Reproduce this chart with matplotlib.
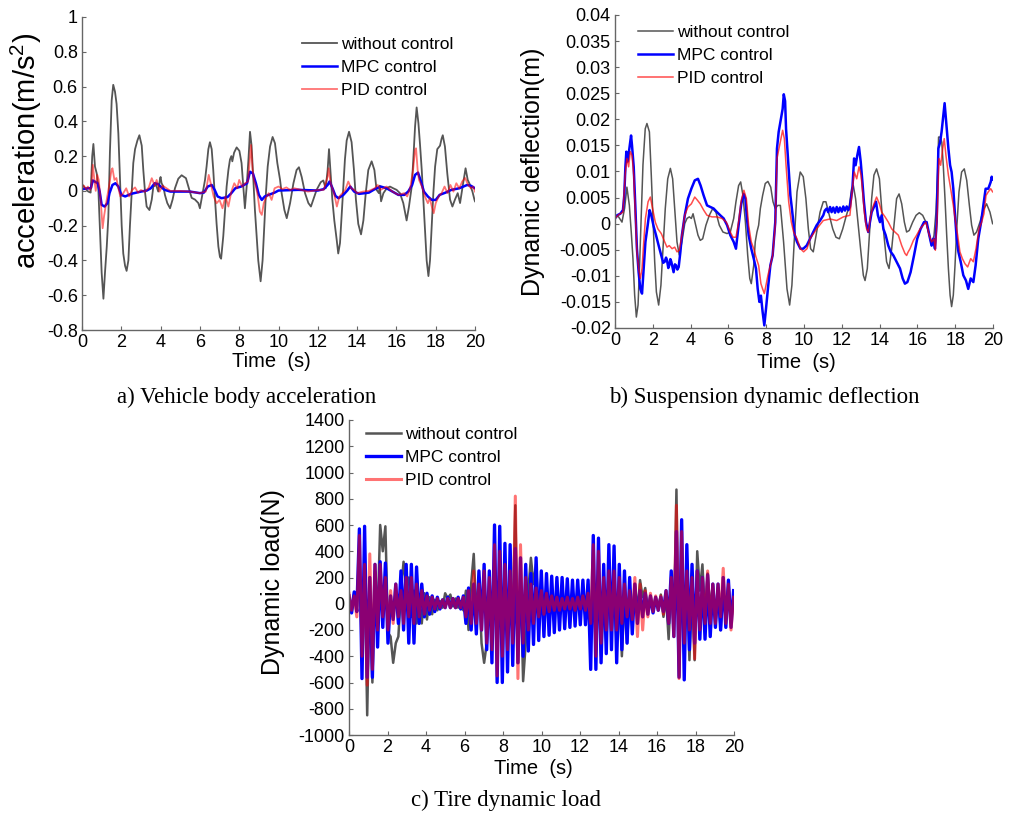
import numpy as np
import matplotlib
matplotlib.use("Agg")
import matplotlib.pyplot as plt

plt.rcParams['font.family'] = ['Liberation Sans', 'DejaVu Sans']
plt.rcParams['axes.unicode_minus'] = False
plt.rcParams['mathtext.fontset'] = 'custom'
plt.rcParams['mathtext.rm'] = 'Liberation Sans'
plt.rcParams['mathtext.it'] = 'Liberation Sans:italic'
plt.rcParams['mathtext.bf'] = 'Liberation Sans:bold'

# ---------------- data ----------------
SERIES = ["without control", "MPC control", "PID control"]
TIME_TICKS = [0, 2, 4, 6, 8, 10, 12, 14, 16, 18, 20]
ACC_TICKS = [-0.8, -0.6, -0.4, -0.2, 0, 0.2, 0.4, 0.6, 0.8, 1]
DEF_TICKS = [-0.02, -0.015, -0.01, -0.005, 0, 0.005, 0.01, 0.015, 0.02, 0.025, 0.03, 0.035, 0.04]
LOAD_TICKS = [-1000, -800, -600, -400, -200, 0, 200, 400, 600, 800, 1000, 1200, 1400]

# a) body acceleration (t [s], a [m/s^2])
ACC_GRAY = [(0.0, 0.04), (0.15, 0.015), (0.32, -0.004), (0.44, -0.01), (0.52, 0.2), (0.58, 0.27), (0.66, 0.14),
            (0.75, 0.1), (0.83, 0.015), (0.92, -0.24), (1.0, -0.47), (1.09, -0.62), (1.17, -0.47), (1.26, -0.32),
            (1.34, -0.15), (1.42, 0.22), (1.51, 0.52), (1.59, 0.61), (1.68, 0.57), (1.76, 0.5), (1.85, 0.33),
            (1.93, 0.08), (2.02, -0.2), (2.1, -0.36), (2.19, -0.43), (2.27, -0.46), (2.36, -0.4), (2.44, -0.2),
            (2.53, -0.01), (2.61, 0.16), (2.7, 0.24), (2.82, 0.29), (2.92, 0.32), (3.04, 0.26), (3.12, 0.12),
            (3.21, -0.01), (3.29, -0.09), (3.43, -0.11), (3.55, -0.05), (3.63, 0.025), (3.77, 0.034), (3.88, -0.004),
            (3.97, 0.07), (4.0, 0.08), (4.05, 0.044), (4.14, 0.025), (4.22, -0.023), (4.34, -0.07), (4.48, -0.1),
            (4.61, -0.05), (4.73, 0.015), (4.9, 0.07), (5.07, 0.09), (5.29, 0.073), (5.46, 0.006), (5.58, -0.04),
            (5.75, -0.05), (5.92, -0.07), (6.0, -0.1), (6.14, -0.013), (6.26, 0.063), (6.34, 0.14), (6.43, 0.24),
            (6.51, 0.28), (6.6, 0.24), (6.68, 0.12), (6.77, -0.05), (6.85, -0.19), (6.94, -0.32), (7.02, -0.38),
            (7.08, -0.39), (7.19, -0.26), (7.28, -0.11), (7.36, 0.025), (7.45, 0.12), (7.53, 0.18), (7.6, 0.2),
            (7.65, 0.17), (7.74, 0.22), (7.87, 0.25), (8.01, 0.23), (8.12, 0.16), (8.21, 0.025), (8.29, -0.1),
            (8.38, 0.025), (8.47, 0.18), (8.55, 0.34), (8.63, 0.26), (8.72, 0.063), (8.8, -0.11), (8.89, -0.26),
            (8.97, -0.4), (9.09, -0.52), (9.19, -0.4), (9.28, -0.2), (9.36, -0.013), (9.45, 0.14), (9.57, 0.255),
            (9.7, 0.31), (9.82, 0.274), (9.94, 0.16), (10.08, 0.063), (10.16, -0.013), (10.3, -0.11), (10.42, -0.157),
            (10.59, -0.07), (10.76, 0.044), (10.92, 0.12), (11.04, 0.136), (11.18, 0.08), (11.35, -0.013),
            (11.52, -0.07), (11.65, -0.09), (11.77, -0.05), (11.94, 0.006), (12.03, 0.025), (12.15, 0.05),
            (12.28, 0.06), (12.4, 0.015), (12.5, 0.12), (12.57, 0.24), (12.65, 0.1), (12.74, -0.05), (12.84, -0.17),
            (12.96, -0.28), (13.04, -0.36), (13.13, -0.3), (13.21, -0.15), (13.3, 0.025), (13.38, 0.18),
            (13.47, 0.29), (13.59, 0.34), (13.72, 0.28), (13.84, 0.12), (13.94, -0.05), (14.06, -0.19),
            (14.2, -0.25), (14.32, -0.17), (14.44, -0.013), (14.57, 0.12), (14.74, 0.17), (14.88, 0.12),
            (14.99, 0.006), (15.11, -0.013), (15.15, 0.03), (15.22, -0.06), (15.34, -0.013), (15.51, 0.015),
            (15.67, 0.025), (15.84, 0.015), (16.01, 0.006), (16.18, -0.013), (16.35, -0.07), (16.52, -0.17),
            (16.64, -0.09), (16.78, 0.025), (16.86, 0.18), (16.95, 0.37), (17.03, 0.48), (17.12, 0.39),
            (17.2, 0.27), (17.29, 0.12), (17.37, -0.05), (17.46, -0.24), (17.54, -0.4), (17.63, -0.49),
            (17.71, -0.4), (17.8, -0.2), (17.88, -0.013), (17.97, 0.14), (18.08, 0.24), (18.22, 0.26),
            (18.3, 0.3), (18.36, 0.32), (18.47, 0.255), (18.59, 0.1), (18.73, -0.05), (18.85, -0.09),
            (18.98, -0.05), (19.12, -0.013), (19.24, -0.07), (19.37, 0.025), (19.52, 0.13), (19.63, 0.063),
            (19.75, 0.034), (19.87, -0.004), (19.97, -0.05), (20.0, -0.06)]

ACC_MPC = [(0, 0.01), (0.3, 0.015), (0.45, 0.015), (0.55, 0.06), (0.8, 0.044), (0.9, -0.004), (1.0, -0.08),
           (1.15, -0.09), (1.3, -0.07), (1.4, -0.013), (1.55, 0.034), (1.7, 0.044), (1.85, 0.025), (2.0, -0.023),
           (2.2, -0.032), (2.5, -0.017), (3.0, -0.004), (3.3, 0.002), (3.5, 0.015), (3.7, 0.044), (3.85, 0.04),
           (4.0, 0.025), (4.2, 0.006), (4.5, -0.004), (5.0, -0.004), (5.5, -0.004), (6.0, -0.013), (6.2, -0.01),
           (6.4, 0.025), (6.6, 0.034), (6.75, 0.006), (6.9, -0.032), (7.1, -0.042), (7.4, -0.036), (7.6, -0.013),
           (7.8, 0.015), (8.1, 0.025), (8.4, 0.044), (8.55, 0.11), (8.7, 0.1), (8.85, 0.044), (9.0, -0.023),
           (9.15, -0.052), (9.3, -0.032), (9.5, -0.023), (9.8, -0.01), (10.0, 0.002), (10.5, 0.004), (11.0, 0.006),
           (11.5, 0.004), (12.0, 0.002), (12.3, 0.01), (12.5, 0.034), (12.6, 0.054), (12.75, 0.015), (12.9, -0.029),
           (13.05, -0.042), (13.3, -0.023), (13.5, 0.002), (13.65, 0.025), (13.85, -0.004), (14.1, -0.017),
           (14.4, -0.013), (14.6, -0.01), (14.9, 0.01), (15.2, 0.025), (15.5, 0.015), (15.8, -0.004),
           (16.1, -0.023), (16.4, -0.023), (16.6, -0.004), (16.8, 0.034), (16.95, 0.092), (17.1, 0.105),
           (17.25, 0.054), (17.4, -0.004), (17.6, -0.032), (17.8, -0.052), (18.0, -0.052), (18.2, -0.023),
           (18.5, -0.01), (18.8, 0.006), (19.2, 0.015), (19.6, 0.034), (19.8, 0.029), (20.0, 0.015)]

ACC_PID = [(0, 0.02), (0.1, 0.03), (0.2, 0.01), (0.3, 0.025), (0.4, 0.005), (0.48, 0.02), (0.55, 0.15),
           (0.62, 0.074), (0.7, 0.0), (0.78, 0.092), (0.85, 0.063), (0.95, -0.052), (1.05, -0.215), (1.12, -0.148),
           (1.2, -0.09), (1.3, -0.023), (1.4, 0.044), (1.5, 0.121), (1.55, 0.13), (1.65, 0.063), (1.75, 0.074),
           (1.85, 0.015), (1.95, -0.032), (2.1, -0.013), (2.25, 0.015), (2.4, -0.032), (2.55, 0.005), (2.7, 0.02),
           (2.85, -0.01), (3.0, 0.005), (3.2, -0.005), (3.4, 0.02), (3.55, 0.073), (3.7, 0.03), (3.8, 0.063),
           (3.95, -0.004), (4.1, 0.03), (4.3, 0.015), (4.5, 0.0), (5.0, 0.0), (5.5, -0.004), (6.0, -0.013),
           (6.3, -0.004), (6.45, 0.092), (6.55, 0.044), (6.7, -0.032), (6.85, -0.071), (7.0, -0.052), (7.15, -0.1),
           (7.3, -0.032), (7.45, -0.09), (7.6, -0.004), (7.75, 0.044), (7.9, 0.015), (8.0, 0.063), (8.15, 0.025),
           (8.3, 0.044), (8.45, 0.054), (8.6, 0.264), (8.68, 0.121), (8.75, 0.063), (8.85, 0.025), (8.95, -0.032),
           (9.05, -0.119), (9.15, -0.138), (9.25, -0.071), (9.35, -0.042), (9.5, -0.013), (9.65, -0.052),
           (9.8, 0.015), (10.0, 0.025), (10.2, 0.01), (10.4, 0.02), (10.6, 0.005), (10.8, 0.015), (11.0, 0.01),
           (11.5, -0.004), (12.0, 0.005), (12.3, 0.006), (12.5, 0.082), (12.55, 0.13), (12.65, 0.044),
           (12.8, -0.004), (12.9, -0.052), (12.97, -0.09), (13.1, -0.032), (13.25, -0.013), (13.4, 0.006),
           (13.55, 0.054), (13.7, 0.015), (13.85, 0.006), (14.0, -0.013), (14.3, -0.004), (14.6, 0.0),
           (14.9, 0.015), (15.05, 0.034), (15.2, 0.006), (15.5, 0.025), (15.8, -0.004), (16.1, -0.023),
           (16.4, -0.013), (16.55, -0.032), (16.7, 0.015), (16.85, 0.121), (16.95, 0.236), (17.0, 0.245),
           (17.08, 0.121), (17.15, 0.063), (17.3, 0.025), (17.45, -0.032), (17.6, -0.071), (17.7, -0.042),
           (17.8, -0.09), (17.9, -0.128), (18.0, -0.071), (18.15, -0.032), (18.3, -0.013), (18.45, 0.025),
           (18.6, -0.013), (18.75, 0.034), (18.9, -0.004), (19.05, 0.044), (19.2, 0.015), (19.35, 0.054),
           (19.5, 0.074), (19.65, 0.034), (19.8, 0.015), (19.9, 0.025), (20.0, -0.004)]

# b) suspension dynamic deflection (t [s], d [m])
DEF_GRAY = [(0, 0.0016), (0.19, 0.0013), (0.37, 0.0003), (0.51, 0.003), (0.63, 0.007), (0.76, 0.0035),
            (0.86, -0.0016), (0.95, -0.0067), (1.04, -0.0137), (1.13, -0.0179), (1.22, -0.0156), (1.3, -0.008),
            (1.39, 0.0016), (1.48, 0.0113), (1.6, 0.0182), (1.69, 0.0192), (1.82, 0.0176), (1.92, 0.0093),
            (2.01, 0.001), (2.1, -0.0073), (2.19, -0.0131), (2.31, -0.0156), (2.43, -0.0118), (2.54, -0.0048),
            (2.66, 0.0029), (2.79, 0.0086), (2.93, 0.0106), (3.05, 0.0086), (3.16, 0.0029), (3.28, -0.0035),
            (3.4, -0.006), (3.54, -0.0035), (3.69, 0.0), (3.81, 0.001), (3.93, 0.0013), (4.04, 0.001),
            (4.13, 0.0019), (4.25, 0.0), (4.39, -0.0022), (4.51, -0.0032), (4.64, -0.0029), (4.81, -0.0003),
            (4.99, 0.0016), (5.17, 0.0029), (5.34, 0.0022), (5.52, -0.0003), (5.71, -0.0016), (5.93, -0.0019),
            (6.1, -0.0016), (6.28, 0.001), (6.4, 0.0042), (6.54, 0.0073), (6.65, 0.008), (6.77, 0.0054),
            (6.9, 0.0003), (7.02, -0.006), (7.13, -0.0105), (7.21, -0.0115), (7.34, -0.008), (7.42, -0.0035),
            (7.51, -0.0016), (7.6, -0.0003), (7.69, 0.0029), (7.81, 0.0054), (7.95, 0.0077), (8.09, 0.0081),
            (8.24, 0.007), (8.36, 0.0042), (8.48, 0.0029), (8.61, 0.0035), (8.75, 0.0035), (8.92, -0.0035),
            (9.1, -0.0125), (9.24, -0.0156), (9.36, -0.0118), (9.5, -0.0022), (9.63, 0.0061), (9.8, 0.0099),
            (9.96, 0.009), (10.1, 0.0048), (10.23, -0.001), (10.35, -0.0048), (10.49, -0.0054), (10.67, -0.0016),
            (10.85, 0.0022), (11.02, 0.0042), (11.16, 0.0042), (11.34, 0.0016), (11.52, -0.001), (11.69, -0.0026),
            (11.87, -0.0029), (12.05, -0.001), (12.22, 0.0013), (12.4, 0.0035), (12.52, 0.0067), (12.61, 0.0073),
            (12.73, 0.0048), (12.87, -0.0003), (13.01, -0.0054), (13.14, -0.0099), (13.23, -0.0109),
            (13.35, -0.0086), (13.46, -0.0022), (13.58, 0.0048), (13.7, 0.0093), (13.84, 0.0105), (13.99, 0.0086),
            (14.11, 0.0029), (14.23, -0.0022), (14.37, -0.0073), (14.5, -0.0086), (14.64, -0.0048),
            (14.76, -0.0003), (14.9, 0.0048), (15.03, 0.0057), (15.17, 0.0038), (15.31, 0.0003), (15.43, -0.0016),
            (15.57, -0.0013), (15.75, 0.0003), (15.93, 0.0016), (16.1, 0.0021), (16.28, 0.0016), (16.45, 0.0003),
            (16.63, -0.0022), (16.75, -0.0042), (16.88, -0.0022), (16.98, 0.0022), (17.07, 0.0099),
            (17.12, 0.0166), (17.22, 0.0166), (17.29, 0.0156), (17.37, 0.0111), (17.46, 0.0048), (17.55, -0.0022),
            (17.64, -0.0086), (17.73, -0.0137), (17.81, -0.0159), (17.9, -0.0137), (17.99, -0.008),
            (18.08, -0.001), (18.2, 0.0061), (18.34, 0.0099), (18.48, 0.0105), (18.61, 0.0083), (18.75, 0.0035),
            (18.87, -0.0003), (18.99, -0.0022), (19.13, -0.0016), (19.31, 0.0003), (19.49, 0.0026),
            (19.66, 0.0038), (19.84, 0.0022), (19.98, 0.0)]

DEF_MPC = [(0, 0.001), (0.11, 0.0016), (0.28, 0.0019), (0.42, 0.0026), (0.49, 0.0054), (0.55, 0.0109),
           (0.6, 0.0138), (0.67, 0.0119), (0.76, 0.0144), (0.85, 0.0169), (0.9, 0.015), (0.99, 0.0109),
           (1.08, 0.0029), (1.16, -0.0048), (1.25, -0.0093), (1.34, -0.0125), (1.43, -0.0134), (1.52, -0.0086),
           (1.61, -0.0035), (1.73, -0.0003), (1.83, 0.0026), (1.92, 0.0016), (2.05, -0.0006), (2.17, -0.0022),
           (2.31, -0.0042), (2.45, -0.0061), (2.55, -0.0075), (2.63, -0.0073), (2.7, -0.0065), (2.75, -0.007),
           (2.82, -0.0085), (2.87, -0.008), (2.93, -0.0068), (2.98, -0.0073), (3.05, -0.0085), (3.1, -0.0093),
           (3.17, -0.0078), (3.23, -0.008), (3.3, -0.0088), (3.37, -0.0083), (3.46, -0.0054), (3.54, -0.0022),
           (3.69, 0.0016), (3.86, 0.0048), (4.04, 0.0067), (4.22, 0.0083), (4.39, 0.0086), (4.53, 0.0073),
           (4.69, 0.0054), (4.87, 0.0035), (5.04, 0.0032), (5.22, 0.0029), (5.4, 0.0022), (5.57, 0.0016),
           (5.75, 0.001), (5.93, -0.0003), (6.1, -0.0022), (6.28, -0.0035), (6.4, -0.0048), (6.54, -0.0003),
           (6.68, 0.0038), (6.81, 0.0057), (6.9, 0.0048), (6.98, 0.001), (7.07, -0.0022), (7.21, -0.0048),
           (7.34, -0.0067), (7.46, -0.0086), (7.55, -0.0125), (7.64, -0.015), (7.72, -0.0138), (7.81, -0.0169),
           (7.9, -0.0195), (7.99, -0.0163), (8.09, -0.0125), (8.22, -0.008), (8.34, -0.0061), (8.48, 0.0003),
           (8.57, 0.0144), (8.66, 0.0176), (8.75, 0.0195), (8.87, 0.022), (8.93, 0.0248), (9.0, 0.0235),
           (9.05, 0.0182), (9.15, 0.0125), (9.28, 0.0054), (9.36, 0.0029), (9.51, -0.0022), (9.63, -0.0035),
           (9.81, -0.0048), (9.96, -0.0048), (10.14, -0.0042), (10.32, -0.0029), (10.49, -0.0016),
           (10.67, -0.0003), (10.85, 0.0006), (11.02, 0.0016), (11.1, 0.0025), (11.2, 0.0029), (11.28, 0.0022),
           (11.38, 0.0032), (11.46, 0.0022), (11.55, 0.0031), (11.64, 0.0021), (11.73, 0.0032), (11.82, 0.0022),
           (11.9, 0.0031), (12.0, 0.0023), (12.08, 0.0033), (12.17, 0.0025), (12.26, 0.0033), (12.35, 0.0026),
           (12.43, 0.0032), (12.56, 0.0067), (12.65, 0.0125), (12.73, 0.0112), (12.82, 0.0131), (12.91, 0.0147),
           (13.0, 0.0119), (13.09, 0.008), (13.17, 0.0042), (13.28, 0.0003), (13.4, -0.0016), (13.49, 0.0003),
           (13.58, 0.0022), (13.7, 0.0032), (13.81, 0.0042), (13.91, 0.0016), (14.02, 0.0003), (14.11, 0.0016),
           (14.2, -0.001), (14.32, -0.0022), (14.46, -0.0042), (14.59, -0.0054), (14.73, -0.0061),
           (14.9, -0.0073), (15.08, -0.0086), (15.22, -0.0105), (15.34, -0.0115), (15.47, -0.0112),
           (15.64, -0.0093), (15.82, -0.0061), (15.99, -0.0029), (16.17, -0.001), (16.35, 0.0003),
           (16.49, 0.0003), (16.63, -0.0022), (16.75, -0.0042), (16.84, -0.0029), (16.93, -0.0048),
           (17.02, 0.0003), (17.11, 0.0144), (17.2, 0.0156), (17.28, 0.0176), (17.37, 0.0207), (17.44, 0.0231),
           (17.55, 0.0182), (17.64, 0.0144), (17.73, 0.0112), (17.81, 0.0099), (17.9, 0.0067), (17.99, 0.0016),
           (18.08, -0.0029), (18.17, -0.0054), (18.29, -0.0073), (18.43, -0.0099), (18.57, -0.0109),
           (18.69, -0.0125), (18.82, -0.0105), (18.96, -0.0112), (19.08, -0.008), (19.22, -0.0029),
           (19.37, 0.0003), (19.49, 0.0035), (19.61, 0.0067), (19.75, 0.0067), (19.88, 0.008), (19.93, 0.009),
           (19.98, 0.0085)]

DEF_PID = [(0, 0.001), (0.19, 0.0017), (0.42, 0.0022), (0.55, 0.0099), (0.63, 0.0125), (0.72, 0.0109),
           (0.81, 0.0138), (0.9, 0.0131), (0.99, 0.0093), (1.08, 0.0016), (1.16, -0.0054), (1.25, -0.0086),
           (1.34, -0.0105), (1.43, -0.0086), (1.52, -0.0035), (1.61, 0.001), (1.75, 0.0042), (1.87, 0.0051),
           (1.99, 0.0029), (2.13, 0.0003), (2.27, -0.001), (2.45, -0.0019), (2.63, -0.0035), (2.75, -0.0045),
           (2.87, -0.0042), (3.02, -0.0048), (3.16, -0.0045), (3.28, -0.0054), (3.4, -0.0051), (3.54, -0.0022),
           (3.69, 0.0016), (3.86, 0.0032), (4.04, 0.0038), (4.22, 0.0051), (4.36, 0.0045), (4.51, 0.0038),
           (4.69, 0.0026), (4.87, 0.0016), (5.13, 0.0013), (5.4, 0.0013), (5.66, 0.001), (5.89, 0.0003),
           (6.1, -0.0016), (6.24, -0.0026), (6.4, -0.0026), (6.54, 0.0003), (6.68, 0.0045), (6.82, 0.0064),
           (6.95, 0.0048), (7.07, -0.0003), (7.21, -0.0035), (7.34, -0.0048), (7.46, -0.0064), (7.6, -0.008),
           (7.72, -0.0115), (7.81, -0.0125), (7.9, -0.0134), (7.99, -0.0118), (8.09, -0.0099), (8.22, -0.008),
           (8.34, -0.0061), (8.48, -0.0003), (8.57, 0.0125), (8.66, 0.0141), (8.75, 0.0156), (8.87, 0.0179),
           (8.96, 0.0163), (9.05, 0.0112), (9.19, 0.0042), (9.33, 0.0003), (9.45, -0.0016), (9.63, -0.0029),
           (9.81, -0.0048), (9.98, -0.0054), (10.16, -0.0048), (10.32, -0.0029), (10.67, -0.001), (11.02, 0.0006),
           (11.38, 0.0009), (11.73, 0.0006), (12.08, 0.0013), (12.43, 0.0016), (12.56, 0.0067), (12.66, 0.0099),
           (12.79, 0.0086), (12.91, 0.0109), (13.02, 0.0093), (13.1, 0.0061), (13.19, 0.0022), (13.31, -0.001),
           (13.4, -0.0016), (13.53, 0.0016), (13.67, 0.0035), (13.84, 0.0051), (13.99, 0.0038), (14.11, 0.0022),
           (14.29, 0.0013), (14.46, 0.0003), (14.64, -0.001), (14.81, -0.0016), (14.99, -0.0022),
           (15.17, -0.0042), (15.34, -0.0057), (15.43, -0.0061), (15.5, -0.0055), (15.61, -0.0048),
           (15.79, -0.0032), (15.96, -0.0022), (16.14, -0.001), (16.31, -0.0003), (16.45, 0.0003),
           (16.63, -0.0022), (16.75, -0.0035), (16.88, -0.0029), (16.95, -0.0051), (17.05, 0.0016),
           (17.14, 0.0125), (17.23, 0.0112), (17.34, 0.0144), (17.42, 0.0163), (17.51, 0.0131), (17.64, 0.0093),
           (17.76, 0.0067), (17.9, 0.0035), (18.02, 0.0003), (18.13, -0.0022), (18.25, -0.0054),
           (18.38, -0.0067), (18.52, -0.0077), (18.66, -0.0083), (18.82, -0.0067), (18.96, -0.0073),
           (19.1, -0.0048), (19.26, -0.001), (19.4, 0.0003), (19.52, 0.0019), (19.63, 0.0054), (19.75, 0.0061),
           (19.88, 0.0067), (19.98, 0.0061)]

# c) tire dynamic load: successive half-cycle extremes [N], sampled every LOAD_DT seconds
LOAD_DT = 0.135
LOAD_GRAY = [50, -60, 80, -50, 450, -400, 300, -850, 200, -600,
             250, -100, 600, 400, 590, -220, -250, -450, -300, -250,
             100, 320, 150, 200, -100, 100, -150, 50, -150, 80,
             -120, 50, -80, 30, -50, 20, -30, 80, 40, 70,
             -20, 40, -30, 20, -50, 100, -200, 150, 380, -100,
             200, -300, -450, -300, 100, -200, 300, -300, 250, -350,
             270, -250, 100, -150, 750, -450, 200, -590, -300, 100,
             350, 150, 300, -100, 200, -150, 150, -120, 100, -100,
             80, -100, 60, -80, 100, -80, 80, -100, 120, -80,
             80, -100, 150, -200, 350, -350, 200, -400, 100, -300,
             150, -250, 200, -350, 100, -400, 50, -300, 100, -150,
             150, -50, 180, 50, 120, -50, 60, -40, 50, -30,
             70, -100, 50, -270, 150, -200, 870, -550, 500, -300,
             200, -430, 100, -430, 400, 100, 300, -100, 230, -50,
             150, -150, 120, -200, 100, -100, 150, -150, 50]
LOAD_MPC = [60, -70, 90, -60, 570, -570, 590, -560, 200, -560,
            300, -330, 320, -180, 310, -300, 60, -120, 150, -150,
            250, -200, 300, -300, 300, -300, 280, -150, 150, -100,
            80, -80, 60, -60, 50, -40, 30, -30, 50, -30,
            40, -30, 50, -40, 60, -150, 120, -200, 150, -230,
            250, -200, 300, -350, 250, -450, 600, -600, 590, -600,
            460, -520, 450, -470, 420, -450, 350, -400, 300, -360,
            230, -310, 350, -280, 250, -250, 230, -240, 210, -220,
            200, -200, 200, -190, 190, -180, 180, -170, 180, -160,
            180, -160, 180, -500, 520, -500, 500, -450, 300, -380,
            450, -350, 440, -450, 300, -350, 250, -300, 200, -230,
            150, -150, 100, -100, 80, -80, 60, -70, 50, -50,
            50, -60, 100, -150, 250, -250, 550, -560, 640, -580,
            450, -350, 300, -300, 250, -270, 200, -270, 220, -250,
            150, -180, 150, -200, 200, -180, 180, -180, 100]
LOAD_PID = [80, -50, 60, -100, 520, -400, 300, -620, 380, -500,
            300, -200, 300, -100, 200, -200, 100, -150, 150, -100,
            100, -150, 200, -100, 200, -150, 150, -100, 100, -80,
            60, -50, 50, -40, 40, -30, 30, -30, 40, -30,
            40, -30, 40, -30, 50, -100, 100, -150, 250, -150,
            150, -200, 250, -300, 200, -350, 450, -550, 400, -400,
            300, -350, 250, -300, 820, -570, 450, -300, 200, -200,
            150, -150, 120, -100, 100, -80, 80, -60, 60, -50,
            50, -50, 40, -40, 50, -40, 40, -50, 50, -40,
            60, -50, 80, -150, 450, -400, 400, -300, 200, -200,
            250, -200, 250, -200, 200, -150, 150, -100, 100, -120,
            200, -250, 150, -200, 100, -100, 80, -60, 60, -50,
            60, -80, 100, -150, 200, -250, 750, -570, 550, -300,
            250, -200, 200, -420, 250, -200, 200, -150, 250, -150,
            150, -150, 150, -100, 270, -150, 150, -200, 50]

# ---------------- figure ----------------
W, H = 1011, 813
fig = plt.figure(figsize=(W / 100, H / 100), dpi=100)


def px_axes(x0, y0, x1, y1):
    return fig.add_axes([x0 / W, 1 - y1 / H, (x1 - x0) / W, (y1 - y0) / H])


ax_a = px_axes(82, 17, 475, 330)
ax_b = px_axes(615, 15, 993, 328)
ax_c = px_axes(349, 420, 734, 735)

GRAY = '#555555'
BLUE = '#0000FF'
RED = '#FF0000'


def style(ax, yticks):
    for s in ['top', 'right']:
        ax.spines[s].set_visible(False)
    for s in ['left', 'bottom']:
        ax.spines[s].set_color('0.4')
        ax.spines[s].set_linewidth(1.0)
    ax.set_xlim(0, 20)
    ax.set_ylim(yticks[0], yticks[-1])
    ax.set_xticks(TIME_TICKS)
    ax.set_xticklabels([f"{v:g}" for v in TIME_TICKS])
    ax.set_yticks(yticks)
    ax.set_yticklabels([f"{v:g}" for v in yticks])
    ax.tick_params(direction='in', length=3, width=0.8, color='0.4', labelsize=13, pad=3)
    ax.patch.set_alpha(0)


def legend(ax, x_px, y_px):
    ax.legend(loc='upper left', bbox_to_anchor=(x_px / W, 1 - y_px / H), bbox_transform=fig.transFigure,
              frameon=False, fontsize=12.5, handlelength=2.0, handletextpad=0.25, labelspacing=0.45,
              borderpad=0, borderaxespad=0)


def xy(pts):
    arr = np.array(pts, dtype=float)
    return arr[:, 0], arr[:, 1]


# a) acceleration
t, v = xy(ACC_GRAY)
ax_a.plot(t, v, color=GRAY, lw=1.3, label=SERIES[0])
t, v = xy(ACC_MPC)
ax_a.plot(t, v, color=BLUE, lw=1.8, label=SERIES[1])
t, v = xy(ACC_PID)
ax_a.plot(t, v, color=RED, lw=1.3, alpha=0.55, label=SERIES[2])
style(ax_a, ACC_TICKS)
ax_a.set_ylabel('acceleration(m/s$^2$)', fontsize=21, va='center')
ax_a.yaxis.set_label_coords(-0.1425, 0.572)
ax_a.set_xlabel('Time  (s)', fontsize=14.5, va='center')
ax_a.xaxis.set_label_coords(0.481, -0.102)
legend(ax_a, 302, 37)

# b) deflection
t, v = xy(DEF_GRAY)
ax_b.plot(t, v, color=GRAY, lw=1.1, label=SERIES[0])
t, v = xy(DEF_MPC)
ax_b.plot(t, v, color=BLUE, lw=1.8, label=SERIES[1])
t, v = xy(DEF_PID)
ax_b.plot(t, v, color=RED, lw=1.1, alpha=0.7, label=SERIES[2])
style(ax_b, DEF_TICKS)
ax_b.set_ylabel('Dynamic deflection(m)', fontsize=18, va='center')
ax_b.yaxis.set_label_coords(-0.217, 0.498)
ax_b.set_xlabel('Time  (s)', fontsize=14.5, va='center')
ax_b.xaxis.set_label_coords(0.479, -0.109)
legend(ax_b, 638, 25)

# c) tire load
t_load = np.arange(len(LOAD_MPC)) * LOAD_DT
ax_c.plot(t_load, LOAD_GRAY, color=GRAY, lw=1.8, label=SERIES[0])
ax_c.plot(t_load, LOAD_MPC, color=BLUE, lw=2.4, label=SERIES[1])
ax_c.plot(t_load, LOAD_PID, color=RED, lw=2.2, alpha=0.55, label=SERIES[2])
style(ax_c, LOAD_TICKS)
ax_c.set_ylabel('Dynamic load(N)', fontsize=18, va='center')
ax_c.yaxis.set_label_coords(-0.197, 0.486)
ax_c.set_xlabel('Time  (s)', fontsize=14.5, va='center')
ax_c.xaxis.set_label_coords(0.478, -0.105)
legend(ax_c, 366, 427)

# captions
cap_kw = dict(family=['Liberation Serif', 'DejaVu Serif'], fontsize=16.5, ha='center', va='center')
fig.text(247 / W, 1 - 397 / H, 'a) Vehicle body acceleration', **cap_kw)
fig.text(764 / W, 1 - 397 / H, 'b) Suspension dynamic deflection', **cap_kw)
fig.text(506 / W, 1 - 800 / H, 'c) Tire dynamic load', **cap_kw)

fig.savefig('out.png', dpi=100)
